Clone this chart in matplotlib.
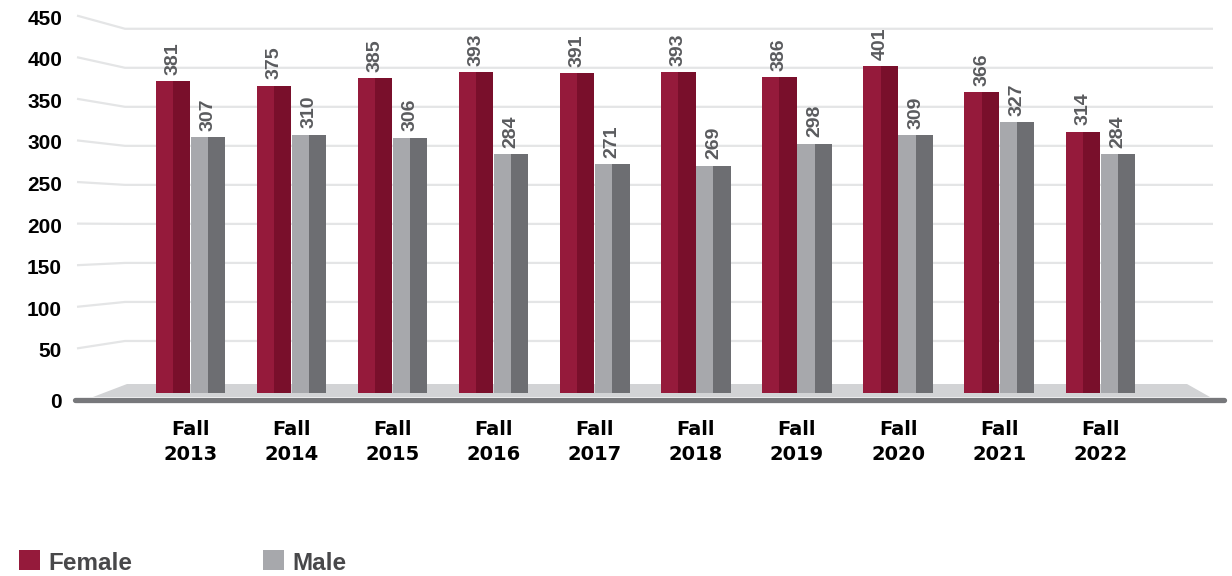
import numpy as np
import matplotlib.pyplot as plt
from matplotlib.patches import Polygon, Rectangle

years = ["2013", "2014", "2015", "2016", "2017", "2018", "2019", "2020", "2021", "2022"]
female = [381, 375, 385, 393, 391, 393, 386, 401, 366, 314]
male = [307, 310, 306, 284, 271, 269, 298, 309, 327, 284]
y_ticks = [0, 50, 100, 150, 200, 250, 300, 350, 400, 450]

FEMALE = ("#951a3b", "#790f2b")   # front face, shaded face
MALE = ("#a7a8ac", "#6d6e72")
GRID = "#e4e5e6"
LABEL_GREY = "#5a5b5e"

W_PX, H_PX = 1232, 576

fig = plt.figure(figsize=(W_PX / 100, H_PX / 100), dpi=100)

# --- backdrop (pixel coordinates): wall grid, left side wall, floor ---
deco = fig.add_axes([0, 0, 1, 1])
deco.set_xlim(0, W_PX)
deco.set_ylim(H_PX, 0)
deco.axis("off")


def wall_y(v):
    # back wall of the 3d box
    return 380.0 - 0.7805 * v


def side_y(v):
    # front edge of the left side wall
    return 390.0 - 0.832 * v


for v in y_ticks[1:]:
    deco.plot([77, 125, 1213], [side_y(v), wall_y(v), wall_y(v)],
              color=GRID, lw=1.6, solid_capstyle="butt", zorder=1)

deco.add_patch(Polygon([(93, 397), (127, 384), (1187, 384), (1210, 397)],
                       closed=True, color="#d2d3d5", lw=0, zorder=2))
deco.plot([75, 1224], [400, 400], color="#77787b", lw=3.8,
          solid_capstyle="round", zorder=3)

for v in y_ticks:
    y = 400 if v == 0 else side_y(v) + 1.5
    deco.text(62, y, str(v), ha="right", va="center_baseline", fontsize=15,
              fontweight="bold", family="Liberation Sans", color="black")

# legend
for x, name, col in [(19, "Female", FEMALE[0]), (263, "Male", MALE[0])]:
    deco.add_patch(Rectangle((x, 550), 21, 20, color=col, lw=0))
    deco.text(x + 29, 569.5, name, ha="left", va="baseline", fontsize=17.5,
              fontweight="bold", family="Liberation Sans", color="#48484a")

# --- bars (data coordinates) ---
ax = fig.add_axes([0, 0, 1, 1])
ax.patch.set_alpha(0)
ax.axis("off")

# groups 101.1 px apart, first group centred at 190.4 px
gx0, gdx = 190.4, 101.1
ax.set_xlim(-gx0 / gdx, (W_PX - gx0) / gdx)
# value 0 sits at row 368.7, 0.755 px per unit
vy0, k = 368.7, 0.755
ax.set_ylim((vy0 - H_PX) / k, vy0 / k)

x = np.arange(len(years))
W = 0.34
GAP = 0.007
BASE = -32  # bars stand on the floor, below the zero line

for vals, cols, left in [(female, FEMALE, x - GAP / 2 - W),
                         (male, MALE, x + GAP / 2)]:
    h = np.array(vals) - BASE
    ax.bar(left, h, bottom=BASE, width=W / 2, align="edge",
           color=cols[0], lw=0, zorder=4)
    ax.bar(left + W / 2, h, bottom=BASE, width=W / 2, align="edge",
           color=cols[1], lw=0, zorder=4)
    for xi, v in zip(left + W / 2, vals):
        ax.annotate(str(v), (xi, v), xytext=(0, 4.5), textcoords="offset points",
                    rotation=90, ha="center", va="bottom", fontsize=14,
                    fontweight="bold", color=LABEL_GREY, family="Liberation Sans")

trans = ax.get_xaxis_transform()
for xi, yr in zip(x, years):
    ax.text(xi, 1 - 435 / H_PX, "Fall", transform=trans, ha="center",
            va="baseline", fontsize=14, fontweight="bold", family="DejaVu Sans")
    ax.text(xi, 1 - 459.5 / H_PX, yr, transform=trans, ha="center",
            va="baseline", fontsize=14, fontweight="bold", family="DejaVu Sans")

fig.savefig("out.png", dpi=100)
